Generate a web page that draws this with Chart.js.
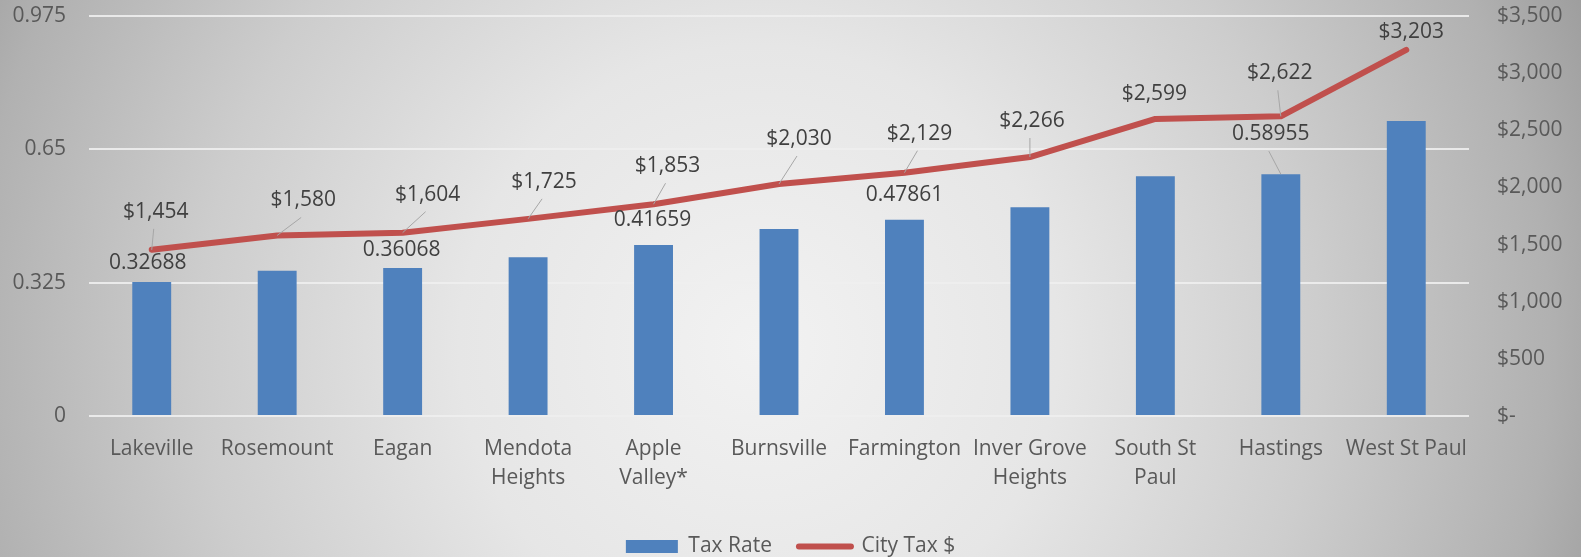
<!DOCTYPE html>
<html>
<head>
<meta charset="utf-8">
<title>Tax Rate / City Tax</title>
<script src="https://cdn.jsdelivr.net/npm/chart.js@4.4.1/dist/chart.umd.min.js"></script>
<style>
  html, body { margin: 0; padding: 0; }
  body {
    width: 1581px;
    height: 557px;
    overflow: hidden;
    background: radial-gradient(circle at 48% 62%, #f2f2f2 0px, #e6e6e6 300px, #cdcdcd 560px, #b1b1b1 790px, #999999 920px);
  }
</style>
</head>
<body>
<canvas id="chart" width="1581" height="557"></canvas>
<script>
// Datos del gráfico
const categories = [
  'Lakeville', 'Rosemount', 'Eagan', ['Mendota', 'Heights'], ['Apple', 'Valley*'],
  'Burnsville', 'Farmington', ['Inver Grove', 'Heights'], ['South St', 'Paul'], 'Hastings', 'West St Paul'
];
const taxRate = [0.32688, 0.354, 0.36068, 0.387, 0.41659, 0.456, 0.47861, 0.509, 0.5845, 0.58955, 0.719];
const cityTax = [1454, 1580, 1604, 1725, 1853, 2030, 2129, 2266, 2599, 2622, 3203];
const rateTicks = [0, 0.325, 0.65, 0.975];
const dollarTicks = [0, 500, 1000, 1500, 2000, 2500, 3000, 3500];

// Desplazamiento de las etiquetas (px) respecto al punto; null = sin etiqueta
const rateLabelOffsets = [[-4, -19], null, [-1, -18], null, [-1, -25], null, [0, -25], null, null, [-10, -40], null];
const taxLabelOffsets = [[4, -38], [26, -35], [25, -38], [16, -37], [14, -38], [20, -45], [15, -39], [2, -36], [-1, -25], [-1, -43], [5, -18]];

const BLUE = '#4f81bd';
const RED = '#c0504d';

Chart.defaults.font.family = '"Open Sans", sans-serif';
Chart.defaults.font.size = 21;
Chart.defaults.color = '#595959';

const fmtDollar = v => v === 0 ? '$-' : '$' + v.toLocaleString('en-US');

// Plugin para dibujar las etiquetas de datos con líneas guía
const dataLabels = {
  id: 'dataLabels',
  afterDatasetsDraw(chart) {
    const ctx = chart.ctx;
    ctx.save();
    ctx.font = '21px "Open Sans", sans-serif';
    ctx.textAlign = 'center';
    ctx.textBaseline = 'middle';

    const drawSet = (meta, values, offsets, fmt) => {
      meta.data.forEach((el, i) => {
        const off = offsets[i];
        if (!off) return;
        const lx = el.x + off[0];
        const ly = el.y + off[1];
        if (off[1] < -30) {
          ctx.strokeStyle = '#a6a6a6';
          ctx.lineWidth = 1;
          ctx.beginPath();
          ctx.moveTo(lx - 2, ly + 17);
          ctx.lineTo(el.x, el.y);
          ctx.stroke();
        }
        ctx.fillStyle = '#404040';
        ctx.fillText(fmt(values[i]), lx, ly);
      });
    };

    drawSet(chart.getDatasetMeta(0), taxRate, rateLabelOffsets, v => String(v));
    drawSet(chart.getDatasetMeta(1), cityTax, taxLabelOffsets, fmtDollar);
    ctx.restore();
  }
};

const ctx = document.getElementById('chart').getContext('2d');
const myChart = new Chart(ctx, {
  type: 'bar',
  data: {
    labels: categories,
    datasets: [
      {
        type: 'bar',
        label: 'Tax Rate',
        data: taxRate,
        yAxisID: 'y',
        backgroundColor: BLUE,
        borderWidth: 0,
        barPercentage: 0.62,
        categoryPercentage: 0.5,
        pointStyle: 'rect'
      },
      {
        type: 'line',
        label: 'City Tax $',
        data: cityTax,
        yAxisID: 'y1',
        borderColor: RED,
        backgroundColor: RED,
        borderWidth: 6,
        borderCapStyle: 'round',
        borderJoinStyle: 'round',
        tension: 0,
        pointRadius: 0,
        pointHoverRadius: 0,
        pointStyle: 'line',
        pointBorderColor: RED,
        pointBorderWidth: 6
      }
    ]
  },
  options: {
    responsive: false,
    devicePixelRatio: 1,
    animation: false,
    layout: { padding: { top: 16, left: 0, right: 0, bottom: 0 } },
    scales: {
      x: {
        grid: { display: false },
        border: { display: false },
        ticks: {
          padding: 11,
          maxRotation: 0,
          autoSkip: false,
          font: { size: 21, lineHeight: 29 / 21 }
        },
        afterFit: s => { s.height = 93; }
      },
      y: {
        position: 'left',
        min: 0,
        max: 0.975,
        // marcas invisibles para separar las etiquetas del eje
        grid: { color: 'rgba(238,238,238,0.9)', lineWidth: 2, drawTicks: true, tickLength: 21, tickColor: 'rgba(0,0,0,0)' },
        border: { display: false },
        ticks: { padding: 2, callback: v => String(v) },
        afterBuildTicks: s => { s.ticks = rateTicks.map(v => ({ value: v })); },
        afterFit: s => { s.width = 89; }
      },
      y1: {
        position: 'right',
        min: 0,
        max: 3500,
        grid: { display: true, drawOnChartArea: false, drawTicks: true, tickLength: 26, tickColor: 'rgba(0,0,0,0)' },
        border: { display: false },
        ticks: { padding: 2, callback: v => fmtDollar(v) },
        afterBuildTicks: s => { s.ticks = dollarTicks.map(v => ({ value: v })); },
        afterFit: s => { s.width = 112; }
      }
    },
    plugins: {
      tooltip: { enabled: false },
      legend: {
        position: 'bottom',
        maxHeight: 48,
        labels: {
          usePointStyle: true,
          pointStyleWidth: 52,
          boxWidth: 52,
          boxHeight: 13,
          padding: 27,
          color: '#595959',
          font: { size: 21 },
          generateLabels(chart) {
            const items = Chart.defaults.plugins.legend.labels.generateLabels(chart);
            items.forEach(it => { if (it.pointStyle === 'line') it.lineCap = 'round'; });
            return items;
          }
        }
      }
    }
  },
  plugins: [dataLabels]
});
</script>
</body>
</html>
